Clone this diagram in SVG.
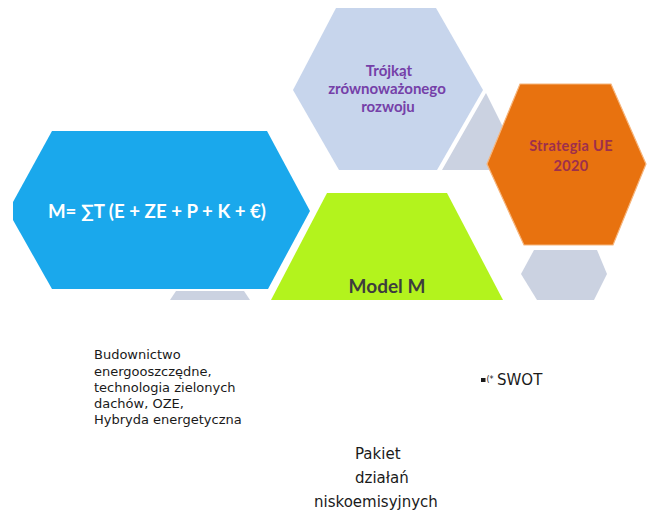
<svg xmlns="http://www.w3.org/2000/svg" width="648" height="517" viewBox="0 0 648 517">
<style>
.lbl{font-family:Lato,"Open Sans","Liberation Sans",sans-serif;font-weight:bold;text-anchor:middle}
.body{font-family:"DejaVu Sans",Verdana,sans-serif;fill:#1a1a1a}
.grey{fill:#cbd2e1}
</style>
<rect width="648" height="517" fill="#ffffff"/>
<g id="grey-back">
<polygon class="grey" points="442,170 486,93 503,127 487,164 490,170"/>
<polygon class="grey" points="534,250 597,250 607,274 594,300 537,300 521,274"/>
<polygon class="grey" points="176,291 244,291 250,300 170,300"/>
</g>
<g id="node-trojkat">
<polygon points="336,8 436,8 483,90 437,170 339,170 293,90" fill="#c7d5ec"/>
<text class="lbl" x="389" y="76" font-size="15" fill="#7540a8">Trójkąt</text>
<text class="lbl" x="387" y="94" font-size="15" fill="#7540a8">zrównoważonego</text>
<text class="lbl" x="388" y="112" font-size="15" fill="#7540a8">rozwoju</text>
</g>
<g id="node-strategia">
<polygon points="520,84 611,84 646,164 613,245 524,245 487,164" fill="#e8720f" stroke="#f6b57c" stroke-width="1.2"/>
<text class="lbl" x="571" y="151" font-size="14.5" fill="#9e2f4c" letter-spacing="0.3">Strategia  UE</text>
<text class="lbl" x="571" y="171" font-size="14.5" fill="#9e2f4c" letter-spacing="0.3">2020</text>
</g>
<g id="node-formula">
<polygon points="52,131 267,131 310,211 268,289 52,289 13,220 13,202" fill="#1aa8ec"/>
<text class="lbl" x="157" y="218" font-size="18.5" fill="#ffffff" textLength="218" lengthAdjust="spacingAndGlyphs">M= ∑T (E + ZE + P + K + €)</text>
</g>
<g id="node-model">
<polygon points="327,193 447,193 503,300 271,300" fill="#b3f31d"/>
<text class="lbl" x="387" y="293" font-size="19" fill="#3d3d3d">Model M</text>
</g>
<g id="connectors"/>
<g id="node-budownictwo" class="body" font-size="13">
<text x="94" y="359">Budownictwo</text>
<text x="94" y="376">energooszczędne,</text>
<text x="94" y="392">technologia zielonych</text>
<text x="94" y="408">dachów, OZE,</text>
<text x="94" y="424">Hybryda energetyczna</text>
</g>
<g id="node-swot" class="body">
<rect x="481" y="378" width="4.5" height="4" fill="#1a1a1a"/>
<text x="486.5" y="382" font-size="8">(*</text>
<text x="497" y="385" font-size="15">SWOT</text>
</g>
<g id="node-pakiet" class="body" font-size="15">
<text x="355" y="459">Pakiet</text>
<text x="355" y="483">działań</text>
<text x="314" y="507">niskoemisyjnych</text>
</g>
</svg>
